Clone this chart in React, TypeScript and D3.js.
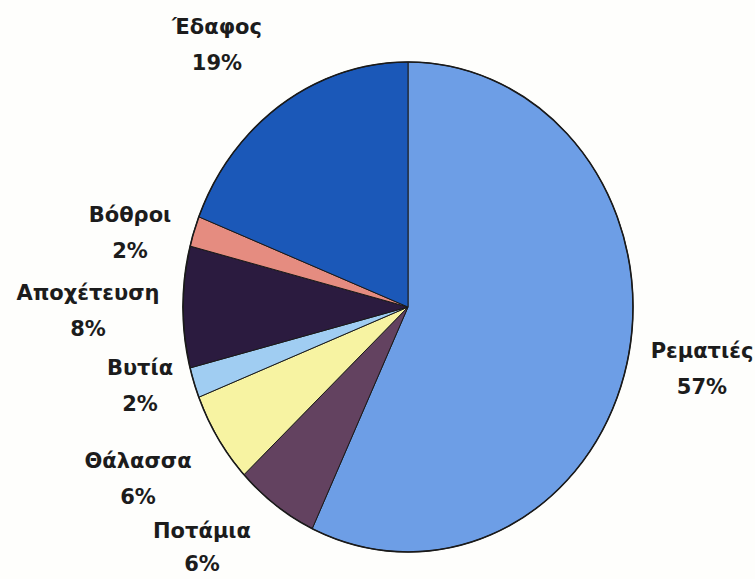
import React from "react";
import * as d3 from "d3";

const categories = ["Ρεματιές", "Ποτάμια", "Θάλασσα", "Βυτία", "Αποχέτευση", "Βόθροι", "Έδαφος"];
const values = [57, 6, 6, 2, 8, 2, 19];
const percentLabels = ["57%", "6%", "6%", "2%", "8%", "2%", "19%"];
const colors = ["#6d9ee6", "#634260", "#f7f3a2", "#a0cdf2", "#2b1b3f", "#e58c80", "#1b58b8"];

// label layout (centre x, baseline of first line, gap to second line)
const labelLayout = [
  [702, 358, 36],
  [202, 538, 33],
  [138, 468, 36],
  [140, 375, 36],
  [88, 300, 36],
  [130, 222, 36],
  [217, 34, 36],
];

const W = 755;
const H = 579;
const cx = 408;
const cy = 307;
const rx = 225;
const ry = 245;

export default function App() {
  const data = categories.map((c, i) => ({ name: c, value: values[i], pct: percentLabels[i], color: colors[i] }));
  const pie = d3.pie<any>().value((d: any) => d.value).sort(null);
  const arcs = pie(data);
  const arc = d3.arc<any>().innerRadius(0).outerRadius(rx);

  return (
    <svg
      width={W}
      height={H}
      style={{ position: "absolute", left: 0, top: 0, background: "#fefefc" }}
      fontFamily="DejaVu Sans"
    >
      <rect width={W} height={H} fill="#fefefc" />
      <g transform={`translate(${cx},${cy}) scale(1,${ry / rx})`}>
        {arcs.map((a, i) => (
          <path
            key={i}
            d={arc(a) as string}
            fill={a.data.color}
            stroke="#1a1a1a"
            strokeWidth={1}
            vectorEffect="non-scaling-stroke"
          />
        ))}
        <ellipse cx={0} cy={0} rx={rx} ry={rx} fill="none" stroke="#1a1a1a" strokeWidth={1.6} vectorEffect="non-scaling-stroke" />
      </g>
      {data.map((d, i) => {
        const [x, y, gap] = labelLayout[i];
        return (
          <text key={i} x={x} y={y} textAnchor="middle" fontSize={21} fontWeight="bold" fill="#1c1c1c">
            <tspan x={x}>{d.name}</tspan>
            <tspan x={x} dy={gap}>{d.pct}</tspan>
          </text>
        );
      })}
    </svg>
  );
}
